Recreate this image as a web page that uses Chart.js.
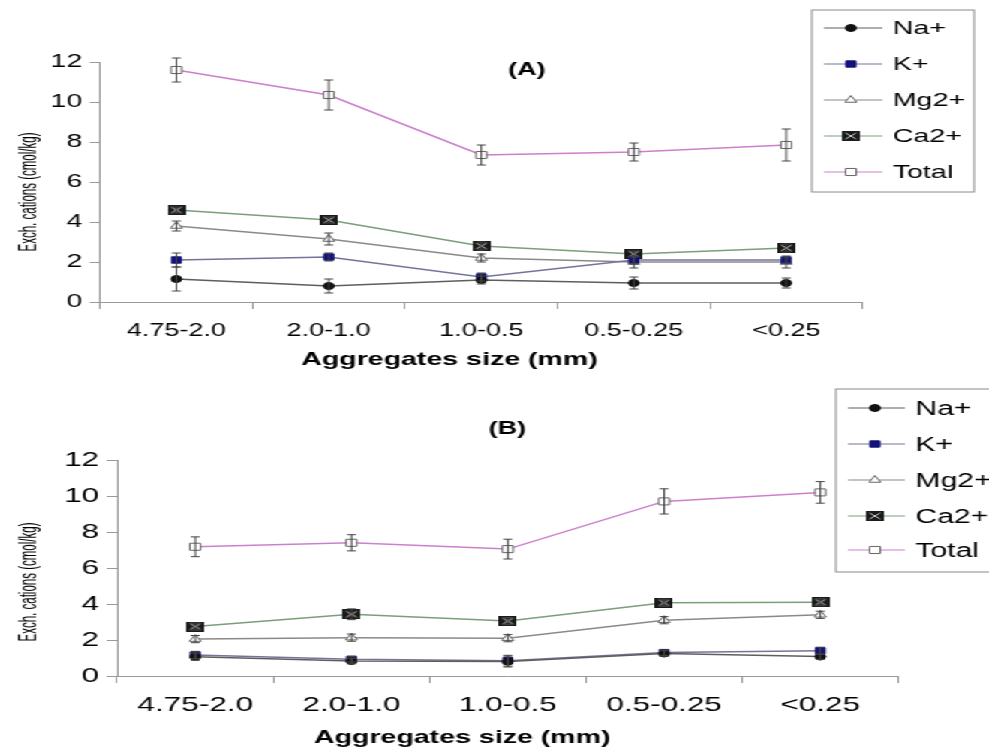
<!DOCTYPE html>
<html>
<head>
<meta charset="utf-8">
<script src="https://cdn.jsdelivr.net/npm/chart.js@4.4.1/dist/chart.umd.min.js"></script>
<style>
  html, body { margin: 0; padding: 0; background: #fff; overflow: hidden; }
  #stretch { position: absolute; left: 0; top: 0; width: 659px; height: 754px; transform: scaleX(1.5008); transform-origin: 0 0; }
  .panel { position: absolute; left: 0; width: 659px; }
</style>
</head>
<body>
<div id="stretch">
  <div class="panel" style="top:0;height:380px"><canvas id="chartA"></canvas></div>
  <div class="panel" style="top:380px;height:374px"><canvas id="chartB"></canvas></div>
</div>
<script>
// data
const sizeLabels = ['4.75-2.0', '2.0-1.0', '1.0-0.5', '0.5-0.25', '<0.25'];
const cationNames = ['Na+', 'K+', 'Mg2+', 'Ca2+', 'Total'];

// panel A
const naA = [1.15, 0.8, 1.1, 0.95, 0.95];
const kA = [2.1, 2.25, 1.25, 2.1, 2.1];
const mgA = [3.8, 3.15, 2.2, 2.0, 2.0];
const caA = [4.6, 4.1, 2.8, 2.4, 2.7];
const totalA = [11.6, 10.35, 7.35, 7.5, 7.85];
const naErrA = [0.6, 0.35, 0.2, 0.3, 0.25];
const kErrA = [0.35, 0.2, 0.2, 0.2, 0.15];
const mgErrA = [0.25, 0.3, 0.2, 0.3, 0.3];
const caErrA = [0.15, 0.15, 0.2, 0.15, 0.2];
const totalErrA = [0.6, 0.75, 0.5, 0.45, 0.8];

// panel B
const naB = [1.07, 0.83, 0.8, 1.25, 1.08];
const kB = [1.17, 0.93, 0.85, 1.3, 1.4];
const mgB = [2.05, 2.13, 2.1, 3.1, 3.4];
const caB = [2.75, 3.43, 3.05, 4.07, 4.1];
const totalB = [7.18, 7.4, 7.05, 9.7, 10.2];
const naErrB = [0.2, 0.15, 0.3, 0.15, 0.15];
const kErrB = [0.2, 0.15, 0.3, 0.15, 0.2];
const mgErrB = [0.2, 0.2, 0.2, 0.2, 0.2];
const caErrB = [0.2, 0.3, 0.2, 0.2, 0.2];
const totalErrB = [0.55, 0.45, 0.55, 0.7, 0.6];

const FONT = "'Liberation Sans', Arial, sans-serif";

// black square with a light cross for Ca2+
const caMark = document.createElement('canvas');
caMark.width = 12;
caMark.height = 10;
(function () {
    const c = caMark.getContext('2d');
    c.fillStyle = '#1a1a1a';
    c.fillRect(0, 0, 12, 10);
    c.strokeStyle = '#cfcfcf';
    c.lineWidth = 1;
    c.beginPath();
    c.moveTo(2.5, 2); c.lineTo(9.5, 8);
    c.moveTo(9.5, 2); c.lineTo(2.5, 8);
    c.stroke();
})();

const lineColors = ['#5e5e5e', '#74749a', '#8a8a8a', '#7a9f7a', '#cc80cc'];
const pointStyles = ['circle', 'rect', 'triangle', caMark, 'rect'];
const pointFills = ['#111111', '#12127a', '#ffffff', '#1a1a1a', '#ffffff'];
const pointBorders = ['#111111', '#12127a', '#666666', '#1a1a1a', '#666666'];
const pointSizes = [3.5, 4.5, 4.5, 6, 5];

const errorBars = {
    id: 'errorBars',
    afterDatasetsDraw(chart) {
        const ctx = chart.ctx;
        const y = chart.scales.y;
        chart.data.datasets.forEach((ds, i) => {
            if (!ds.errors) return;
            chart.getDatasetMeta(i).data.forEach((pt, j) => {
                const top = y.getPixelForValue(ds.data[j] + ds.errors[j]);
                const bot = y.getPixelForValue(ds.data[j] - ds.errors[j]);
                ctx.save();
                ctx.strokeStyle = '#444';
                ctx.lineWidth = 1;
                ctx.beginPath();
                ctx.moveTo(pt.x, top); ctx.lineTo(pt.x, bot);
                ctx.moveTo(pt.x - 3, top); ctx.lineTo(pt.x + 3, top);
                ctx.moveTo(pt.x - 3, bot); ctx.lineTo(pt.x + 3, bot);
                ctx.stroke();
                ctx.restore();
            });
        });
    }
};

function drawMarker(ctx, i, x, y) {
    const style = pointStyles[i];
    if (typeof style !== 'string') {
        ctx.drawImage(style, x - style.width / 2, y - style.height / 2);
        return;
    }
    ctx.fillStyle = pointFills[i];
    ctx.strokeStyle = pointBorders[i];
    ctx.lineWidth = 1;
    if (Chart.helpers && Chart.helpers.drawPoint) {
        Chart.helpers.drawPoint(ctx, {pointStyle: style, radius: pointSizes[i], borderWidth: 1, rotation: 0}, x, y);
    } else {
        const r = pointSizes[i];
        ctx.beginPath();
        ctx.arc(x, y, r, 0, Math.PI * 2);
        ctx.fill();
        ctx.stroke();
    }
}

const boxLegend = {
    id: 'boxLegend',
    afterDraw(chart, args, o) {
        const ctx = chart.ctx;
        ctx.save();
        ctx.strokeStyle = '#8a8a8a';
        ctx.lineWidth = 1;
        ctx.strokeRect(o.x, o.y, o.w, o.h);
        ctx.font = o.font;
        ctx.textBaseline = 'middle';
        cationNames.forEach((name, i) => {
            const ry = o.rows[i];
            ctx.strokeStyle = lineColors[i];
            ctx.lineWidth = 1.2;
            ctx.beginPath();
            ctx.moveTo(o.line[0], ry);
            ctx.lineTo(o.line[1], ry);
            ctx.stroke();
            drawMarker(ctx, i, o.mark, ry);
            ctx.fillStyle = '#000';
            ctx.fillText(name, o.text, ry + 1);
        });
        ctx.restore();
    }
};

const captions = {
    id: 'captions',
    afterDraw(chart, args, o) {
        const ctx = chart.ctx;
        o.items.forEach(t => {
            ctx.save();
            ctx.translate(t.x, t.y);
            if (t.rot) ctx.rotate(t.rot);
            if (t.squeeze) ctx.scale(t.squeeze, 1);
            ctx.font = t.font;
            ctx.fillStyle = '#000';
            ctx.textAlign = 'center';
            ctx.textBaseline = 'middle';
            ctx.fillText(t.text, 0, 0);
            ctx.restore();
        });
    }
};

function makeChart(id, series, errs, look) {
    return new Chart(document.getElementById(id), {
        type: 'line',
        data: {
            labels: sizeLabels,
            datasets: series.map((s, i) => ({
                label: cationNames[i],
                data: s,
                errors: errs[i],
                borderColor: lineColors[i],
                borderWidth: 1.5,
                pointStyle: pointStyles[i],
                pointRadius: pointSizes[i],
                pointBackgroundColor: pointFills[i],
                pointBorderColor: pointBorders[i],
                pointBorderWidth: 1,
                tension: 0
            }))
        },
        options: {
            responsive: true,
            maintainAspectRatio: false,
            animation: false,
            layout: {padding: {left: 0, top: look.top, right: look.right, bottom: 0}},
            scales: {
                x: {
                    type: 'category',
                    offset: true,
                    grid: {offset: true, drawOnChartArea: false, tickLength: 7, color: '#999'},
                    border: {color: '#999'},
                    ticks: {font: {family: FONT, size: look.xFont}, color: '#000', padding: look.xPad, maxRotation: 0, autoSkip: false},
                    afterFit(s) { s.height = look.xHeight; }
                },
                y: {
                    min: 0,
                    max: 12,
                    grid: {drawOnChartArea: false, tickLength: 7, color: '#999'},
                    border: {color: '#999'},
                    ticks: {stepSize: 2, font: {family: FONT, size: look.yFont}, color: '#000', padding: 5},
                    afterFit(s) { s.width = look.yWidth; }
                }
            },
            plugins: {
                legend: {display: false},
                tooltip: {enabled: false},
                boxLegend: look.legend,
                captions: {items: look.captions}
            }
        },
        plugins: [errorBars, boxLegend, captions]
    });
}

makeChart('chartA', [naA, kA, mgA, caA, totalA], [naErrA, kErrA, mgErrA, caErrA, totalErrA], {
    top: 62, right: 84.3, yWidth: 66.7, xHeight: 78, xFont: 18, xPad: 11, yFont: 19,
    legend: {x: 541, y: 10, w: 108, h: 182, rows: [28, 64, 100, 136, 172], line: [549, 588], mark: 567, text: 595, font: '19px ' + FONT},
    captions: [
        {text: '(A)', x: 351, y: 70, font: 'bold 18px ' + FONT},
        {text: 'Aggregates size (mm)', x: 299.5, y: 360, font: 'bold 19px ' + FONT},
        {text: 'Exch. cations (cmol/kg)', x: 19.5, y: 192, rot: -Math.PI / 2, squeeze: 0.72, font: '16px ' + FONT}
    ]
});

makeChart('chartB', [naB, kB, mgB, caB, totalB], [naErrB, kErrB, mgErrB, caErrB, totalErrB], {
    top: 80, right: 60.3, yWidth: 78, xHeight: 78, xFont: 21, xPad: 10, yFont: 21,
    legend: {x: 557, y: 9, w: 125, h: 183, rows: [28, 64, 100, 136, 170], line: [565, 603], mark: 583, text: 610, font: '20px ' + FONT},
    captions: [
        {text: '(B)', x: 338, y: 49, font: 'bold 18px ' + FONT},
        {text: 'Aggregates size (mm)', x: 308, y: 358, font: 'bold 19px ' + FONT},
        {text: 'Exch. cations (cmol/kg)', x: 20, y: 202, rot: -Math.PI / 2, squeeze: 0.72, font: '16px ' + FONT}
    ]
});
</script>
</body>
</html>
